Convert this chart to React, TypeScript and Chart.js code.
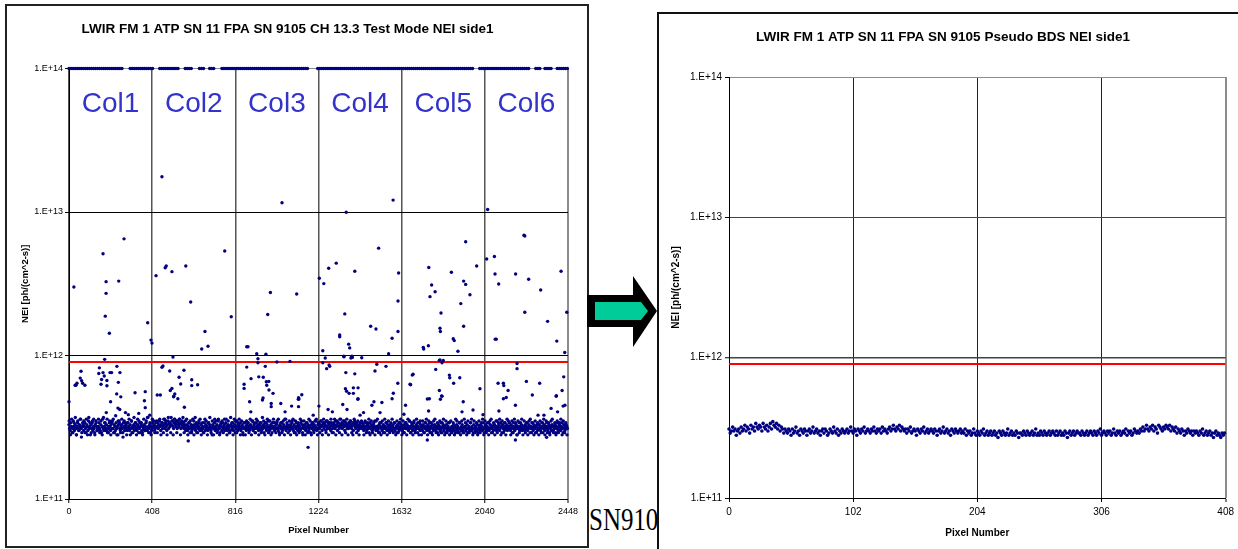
import React, { useEffect, useRef } from "react";
import { Chart, registerables } from "chart.js";

Chart.register(...registerables);

const FONT = '"Liberation Sans", Arial, Helvetica, sans-serif';

const LEFT_TITLE = "LWIR FM 1 ATP SN 11 FPA SN 9105 CH 13.3 Test Mode NEI side1";
const RIGHT_TITLE = "LWIR FM 1 ATP SN 11 FPA SN 9105 Pseudo BDS NEI side1";
const Y_TITLE = "NEI [ph/(cm^2-s)]";
const X_TITLE = "Pixel Number";

const Y_TICKS = [1e11, 1e12, 1e13, 1e14];
const Y_TICK_LABELS = ["1.E+11", "1.E+12", "1.E+13", "1.E+14"];
const LEFT_X_TICKS = [0, 408, 816, 1224, 1632, 2040, 2448];
const RIGHT_X_TICKS = [0, 102, 204, 306, 408];

const THRESHOLD_NEI = 9e11;

const COL_LABELS = ["Col1", "Col2", "Col3", "Col4", "Col5", "Col6"];
const COL_CENTERS = [204, 612, 1020, 1428, 1836, 2244];
const COL_LABEL_LEVEL = 5.6e13;

// Test mode: pixels saturated at the top of the scale
const SATURATED_NEI = 1e14;
const SATURATED_PIXELS = [
  0, 10, 20, 30, 40, 50, 60, 70, 80, 90, 100, 110, 120, 130, 140, 150, 160, 170, 180, 190, 200, 210, 220, 230, 240, 250, 260,
  300, 310, 320, 330, 340, 350, 360, 370, 380, 390, 400, 410,
  445, 455, 465, 475, 485, 495, 505, 515, 525, 535,
  570, 580, 590, 600, 640, 650, 660, 690, 700, 710,
  750, 760, 770, 780, 790, 800, 810, 820, 830, 840, 850, 860, 870, 880, 890, 900, 910, 920, 930, 940, 950, 960, 970, 980, 990,
  1000, 1010, 1020, 1030, 1040, 1050, 1060, 1070, 1080, 1090, 1100, 1110, 1120, 1130, 1140, 1150, 1160, 1170,
  1220, 1230, 1240, 1250, 1260, 1270, 1280, 1290, 1300, 1310, 1320, 1330, 1340, 1350, 1360, 1370, 1380, 1390, 1400,
  1410, 1420, 1430, 1440, 1450, 1460, 1470, 1480, 1490, 1500, 1510, 1520, 1530, 1540, 1550, 1560, 1570, 1580, 1590, 1600,
  1610, 1620, 1630, 1640, 1650, 1660, 1670, 1680, 1690, 1700, 1710, 1720, 1730, 1740, 1750, 1760, 1770, 1780, 1790, 1800,
  1810, 1820, 1830, 1840, 1850, 1860, 1870, 1880, 1890, 1900, 1910, 1920, 1930, 1940, 1950, 1960, 1970, 1980,
  2015, 2025, 2035, 2045, 2055, 2065, 2075, 2085, 2095, 2105, 2115, 2125, 2135, 2145, 2155, 2165, 2175, 2185, 2195, 2205,
  2215, 2225, 2235, 2245, 2255,
  2290, 2300, 2310, 2335, 2345, 2355, 2365, 2395, 2405, 2415, 2425, 2435, 2445,
];

// Test mode: scattered noisy pixels [pixel, NEI]
const TEST_OUTLIERS: [number, number][] = [
  [0, 4.76e11], [24, 3.0e12], [30, 6.2e11], [34, 6.2e11], [39, 6.4e11], [55, 6.96e11], [59, 7.76e11], [62, 6.67e11], [67, 6.4e11], [78, 6.2e11],
  [146, 7.5e11], [149, 8.2e11], [157, 6.3e11], [160, 6.8e11], [167, 5.12e12], [167, 7.6e11], [173, 7.2e11], [175, 9.4e11], [178, 1.88e12],
  [182, 3.27e12], [182, 2.71e12], [183, 4.0e11], [186, 6.7e11], [186, 6.15e11], [198, 1.43e12], [201, 7.6e11], [204, 4.76e11], [209, 7.6e11],
  [234, 5.4e11], [235, 8.4e11], [240, 4.3e11], [242, 6.5e11], [244, 3.3e12], [249, 4.2e11], [250, 7.6e11], [254, 5.15e11], [270, 6.5e12],
  [277, 4.0e11], [291, 3.87e11], [324, 5.5e11], [342, 3.95e11], [370, 4.84e11], [374, 5.6e11], [374, 4.33e11], [386, 1.69e12], [396, 3.84e11],
  [402, 1.28e12], [407, 1.22e12], [427, 3.6e12], [433, 5.3e11], [448, 5.3e11], [456, 1.76e13], [456, 8.28e11], [461, 8.45e11], [472, 4.09e12],
  [477, 4.2e12], [494, 7.8e11], [497, 5.7e11], [505, 3.84e12], [505, 5.9e11], [510, 9.77e11], [513, 5.15e11], [514, 5.2e11], [519, 5.4e11],
  [534, 5.0e11], [540, 7.05e11], [548, 6.33e11], [564, 7.9e11], [566, 4.36e11], [573, 4.2e12], [585, 2.54e11], [597, 2.36e12], [602, 6.78e11],
  [602, 6.17e11], [631, 6.26e11], [651, 1.11e12], [667, 1.47e12], [682, 1.16e12],
  [764, 5.35e12], [796, 1.86e12], [859, 6.3e11], [859, 5.9e11], [872, 1.15e12], [878, 1.15e12], [872, 8.3e11], [886, 4.76e11], [892, 4.05e11],
  [893, 6.9e11], [921, 1.03e12], [927, 9.5e11], [927, 8.9e11], [931, 7.1e11], [949, 4.9e11], [952, 5.06e11], [953, 7.05e11], [963, 8.4e11],
  [966, 1.02e12], [968, 6.57e11], [970, 6.2e11], [975, 1.93e12], [980, 6.6e11], [981, 5.75e11], [988, 2.75e12], [992, 4.63e11], [992, 4.4e11],
  [1001, 5.45e11], [1020, 9.0e11], [1039, 4.63e11], [1045, 1.16e13], [1060, 4.05e11], [1084, 9.1e11], [1092, 4.44e11], [1117, 2.68e12],
  [1125, 4.95e11], [1126, 5.08e11], [1126, 4.4e11], [1128, 4.97e11], [1142, 5.33e11], [1173, 2.29e11], [1198, 3.84e11],
  [1226, 4.44e11], [1228, 3.45e12], [1245, 1.08e12], [1245, 8.9e11], [1250, 3.17e12], [1257, 9.6e11], [1264, 8.1e11], [1271, 4.2e11],
  [1274, 4.06e12], [1276, 8.6e11], [1279, 8.4e11], [1292, 4.05e11], [1311, 4.4e12], [1328, 1.39e12], [1328, 1.35e12], [1343, 4.56e11],
  [1348, 9.9e11], [1349, 9.8e11], [1353, 1.95e12], [1356, 5.86e11], [1358, 7.6e11], [1360, 9.95e12], [1362, 5.64e11], [1364, 4.2e11],
  [1372, 1.2e12], [1374, 5.45e11], [1377, 1.13e12], [1383, 9.6e11], [1388, 9.9e11], [1390, 9.7e11], [1395, 5.95e11], [1395, 5.45e11],
  [1402, 3.86e12], [1402, 7.45e11], [1417, 4.95e11], [1418, 5.95e11], [1418, 5.0e11], [1428, 3.84e11], [1436, 9.65e11], [1445, 4.0e11],
  [1480, 1.6e12], [1486, 4.5e11], [1496, 4.76e11], [1501, 7.8e11], [1506, 1.53e12], [1510, 8.7e11], [1519, 5.6e12], [1526, 4.0e11],
  [1535, 4.7e11], [1555, 8.4e11], [1568, 1.03e12], [1585, 1.32e12], [1585, 5.0e11], [1590, 1.21e13], [1591, 5.46e11], [1613, 6.4e11],
  [1614, 2.4e12], [1614, 1.47e12], [1617, 3.76e12],
  [1643, 3.9e11], [1651, 4.5e11], [1673, 6.3e11], [1676, 6.25e11], [1684, 7.3e11], [1688, 7.4e11], [1738, 1.14e12], [1740, 1.11e12],
  [1758, 4.97e11], [1758, 2.58e11], [1763, 1.17e12], [1764, 4.1e11], [1765, 4.1e12], [1768, 5.0e11], [1771, 2.57e12], [1779, 3.1e12],
  [1796, 2.78e12], [1799, 8.0e11], [1817, 9.25e11], [1817, 5.7e11], [1820, 1.55e12], [1820, 9.3e11], [1822, 1.47e12], [1822, 4.95e11],
  [1825, 1.98e12], [1828, 5.23e11], [1830, 8.9e11], [1830, 5.2e11], [1836, 9.25e11], [1866, 7.3e11], [1868, 7.0e11], [1876, 3.8e12],
  [1885, 1.31e12], [1887, 6.4e11], [1890, 1.27e12], [1908, 1.07e12], [1917, 7.0e11], [1922, 2.3e12], [1928, 4.05e11], [1934, 4.76e11],
  [1936, 3.3e12], [1936, 1.6e12], [1946, 6.2e12], [1946, 3.13e12], [1967, 2.65e12], [1982, 4.17e11],
  [2000, 4.2e12], [2016, 5.86e11], [2031, 3.87e11], [2049, 4.7e12], [2054, 1.04e13], [2087, 4.9e12], [2090, 3.7e12], [2091, 1.3e12],
  [2096, 1.3e12], [2105, 6.4e11], [2108, 3.15e12], [2109, 4.1e11], [2131, 6.4e11], [2131, 5.0e11], [2133, 6.17e11], [2145, 5.1e11],
  [2154, 5.7e11], [2190, 4.5e11], [2190, 2.58e11], [2191, 3.7e12], [2198, 8.8e11], [2198, 8.1e11], [2232, 6.9e12], [2236, 6.8e12],
  [2236, 2.0e12], [2244, 6.6e11], [2255, 3.4e12], [2273, 5.3e11], [2301, 3.84e11], [2309, 6.4e11], [2314, 2.86e12], [2330, 3.84e11],
  [2343, 2.69e11], [2348, 1.73e12], [2365, 4.28e11], [2390, 5.2e11], [2391, 5.25e11], [2393, 1.26e12], [2397, 4.05e11], [2414, 3.86e12],
  [2419, 5.7e11], [2424, 4.44e11], [2427, 7.1e11], [2432, 1.05e12], [2433, 4.5e11], [2442, 2.0e12],
];

// Test mode: main band, one value every 3 pixels, in units of 1e10
const TEST_BAND_STEP = 3;
const TEST_BAND_E10 = [
  33, 31, 30, 34, 32, 29, 31, 35, 32, 30, 33, 31, 28, 32, 34, 31, 30, 33, 32, 36, 31, 29, 32, 33,
  30, 32, 34, 31, 29, 33, 32, 30, 35, 31, 32, 28, 33, 31, 34, 30, 32, 31, 29, 33, 35, 32, 30, 31,
  32, 34, 31, 30, 33, 29, 32, 36, 31, 30, 32, 34, 31, 33, 30, 29, 32, 31, 34, 32, 30, 33, 31, 35,
  31, 29, 33, 32, 30, 34, 31, 32, 28, 33, 35, 31, 30, 32, 33, 31, 29, 34, 32, 30, 31, 33, 32, 30,
  34, 31, 32, 30, 33, 31, 35, 29, 32, 31, 33, 30, 32, 34, 31, 30, 33, 32, 29, 31, 34, 32, 33, 30,
  29, 32, 31, 33, 30, 32, 34, 31, 30, 37, 32, 31, 33, 29, 32, 30, 31, 34, 32, 33, 30, 31, 32, 35,
  32, 34, 31, 33, 35, 32, 30, 33, 34, 31, 32, 36, 33, 31, 34, 32, 30, 33, 35, 31, 34, 32, 33, 37,
  33, 35, 32, 31, 34, 36, 33, 32, 35, 31, 34, 33, 32, 36, 34, 31, 33, 35, 32, 34, 31, 33, 32, 30,
  31, 33, 30, 32, 34, 31, 29, 32, 33, 30, 31, 32, 35, 33, 31, 30, 32, 29, 33, 31, 32, 34, 30, 31,
  33, 30, 32, 31, 29, 34, 32, 30, 33, 31, 32, 30, 34, 31, 33, 32, 30, 31, 28, 33, 32, 31, 34, 30,
  32, 31, 33, 30, 35, 32, 31, 29, 33, 32, 30, 34, 31, 32, 33, 30, 31, 36, 32, 30, 33, 31, 32, 29,
  30, 33, 32, 31, 34, 30, 32, 33, 29, 31, 35, 32, 30, 33, 31, 32, 34, 30, 31, 33, 32, 28, 31, 34,
  31, 32, 30, 33, 31, 34, 32, 30, 31, 33, 32, 35, 31, 30, 32, 33, 31, 29, 34, 32, 31, 33, 30, 32,
  33, 31, 34, 30, 32, 31, 33, 29, 32, 34, 31, 30, 33, 32, 35, 31, 30, 32, 33, 31, 29, 32, 34, 31,
  30, 32, 31, 33, 34, 31, 30, 32, 29, 33, 31, 32, 34, 30, 31, 33, 32, 36, 31, 30, 32, 33, 31, 32,
  32, 30, 33, 31, 32, 35, 31, 30, 33, 32, 29, 31, 34, 32, 30, 33, 31, 32, 30, 34, 31, 33, 29, 32,
  31, 33, 32, 30, 31, 34, 32, 33, 30, 31, 32, 29, 33, 31, 34, 32, 30, 33, 31, 32, 35, 30, 31, 33,
  34, 32, 31, 33, 35, 32, 30, 33, 34, 31, 32, 33, 30, 35, 32, 31, 34, 33, 31, 32, 30, 34, 33, 31,
  32, 34, 33, 31, 35, 32, 33, 30, 34, 32, 31, 36, 33, 32, 34, 31, 33, 35, 32, 30, 33, 34, 32, 31,
  33, 31, 34, 32, 35, 33, 31, 32, 34, 30, 33, 35, 32, 31, 33, 34, 32, 30, 31, 33, 32, 34, 31, 32,
  31, 33, 30, 32, 31, 34, 32, 30, 33, 31, 32, 29, 34, 31, 33, 32, 30, 31, 33, 32, 35, 31, 30, 32,
  32, 30, 31, 33, 29, 32, 34, 31, 30, 32, 33, 31, 29, 32, 31, 34, 30, 33, 32, 31, 30, 33, 31, 32,
  30, 32, 33, 31, 34, 30, 31, 32, 29, 33, 31, 32, 30, 34, 31, 33, 32, 30, 31, 29, 33, 32, 31, 34,
  31, 33, 32, 30, 31, 35, 32, 29, 31, 33, 30, 32, 34, 31, 30, 32, 33, 31, 29, 32, 31, 34, 30, 33,
  32, 31, 30, 33, 32, 29, 31, 34, 32, 30, 31, 33, 32, 30, 34, 31, 32, 29, 33, 31, 30, 32, 33, 31,
  30, 32, 31, 29, 33, 31, 32, 30, 34, 31, 29, 32, 33, 30, 31, 32, 29, 33, 31, 30, 32, 31, 34, 30,
  31, 29, 32, 30, 31, 33, 30, 32, 29, 31, 33, 30, 32, 31, 29, 34, 31, 30, 32, 33, 30, 31, 29, 32,
  32, 30, 31, 33, 29, 31, 32, 30, 31, 34, 30, 32, 31, 29, 33, 31, 30, 32, 31, 30, 33, 29, 31, 32,
  30, 33, 31, 32, 30, 34, 31, 29, 32, 33, 31, 30, 32, 31, 34, 30, 31, 33, 32, 29, 31, 32, 30, 33,
  33, 31, 32, 30, 35, 31, 32, 33, 30, 31, 34, 32, 29, 33, 31, 32, 30, 34, 31, 32, 33, 30, 31, 32,
  31, 32, 30, 33, 31, 29, 32, 34, 31, 30, 32, 33, 31, 28, 32, 31, 34, 30, 32, 31, 33, 30, 32, 31,
  32, 30, 33, 31, 32, 34, 30, 31, 33, 32, 29, 31, 32, 34, 31, 30, 33, 32, 31, 29, 32, 33, 30, 31,
  31, 33, 32, 30, 31, 34, 32, 29, 31, 33, 30, 32, 31, 34, 32, 30, 31, 33, 29, 32, 31, 30, 33, 32,
  30, 32, 31, 33, 29, 32, 31, 34, 30, 32, 33, 31, 30, 32, 34, 31, 29, 33, 32, 30, 31, 33, 32, 31,
];

// Test mode: the band's fuzzy edges, one value every 6 pixels (starting at pixel 1), in units of 1e10
const TEST_EDGE_STEP = 6;
const TEST_EDGE_START = 1;
const TEST_EDGE_E10 = [
  35, 28, 36, 29, 34, 37, 28, 35, 30, 36, 27, 34, 35, 29, 36, 28, 37, 34, 29, 35, 36, 28, 34, 30,
  36, 29, 35, 28, 37, 34, 30, 36, 29, 35, 28, 34, 36, 29, 38, 28, 35, 34, 29, 36, 27, 35, 34, 28,
  34, 36, 28, 35, 29, 37, 34, 28, 36, 35, 29, 34, 28, 36, 30, 35, 37, 29, 34, 28, 36, 35, 29, 34,
  29, 35, 36, 28, 34, 29, 36, 35, 28, 37, 34, 29, 35, 28, 36, 34, 29, 35, 36, 28, 34, 37, 29, 35,
  36, 28, 34, 35, 29, 36, 28, 37, 34, 29, 35, 36, 28, 34, 29, 36, 35, 28, 34, 37, 29, 35, 28, 36,
  35, 29, 36, 28, 34, 35, 29, 36, 34, 28, 35, 29, 37, 34, 28, 36, 35, 29, 34, 36, 28, 35, 29, 34,
  28, 35, 34, 29, 36, 28, 35, 34, 29, 36, 35, 28, 34, 29, 37, 35, 28, 34, 36, 29, 35, 28, 34, 36,
  34, 29, 35, 36, 28, 34, 29, 35, 28, 36, 34, 29, 35, 28, 34, 36, 29, 35, 28, 34, 29, 36, 35, 28,
  35, 28, 34, 29, 36, 35, 28, 34, 29, 35, 36, 28, 34, 29, 35, 28, 36, 34, 29, 35, 28, 34, 36, 29,
  29, 36, 28, 35, 34, 29, 36, 28, 34, 35, 29, 36, 28, 34, 35, 29, 28, 36, 34, 29, 35, 28, 34, 35,
  34, 28, 35, 29, 34, 36, 28, 35, 29, 34, 28, 35, 36, 29, 34, 28, 35, 29, 36, 34, 28, 35, 29, 34,
  36, 29, 34, 28, 35, 29, 34, 36, 28, 35, 29, 34, 28, 36, 35, 29, 34, 28, 35, 29, 36, 34, 28, 35,
  28, 35, 29, 34, 36, 28, 35, 29, 34, 28, 35, 36, 29, 34, 28, 35, 29, 34, 36, 28, 35, 29, 34, 28,
  35, 29, 34, 28, 36, 35, 29, 34, 28, 35, 29, 36, 34, 28, 35, 29, 34, 36, 28, 35, 29, 34, 28, 35,
  29, 34, 36, 28, 35, 29, 34, 28, 35, 36, 29, 34, 28, 35, 29, 34, 36, 28, 35, 29, 34, 28, 36, 35,
  34, 28, 35, 29, 36, 34, 28, 35, 29, 34, 36, 28, 35, 29, 34, 28, 35, 36, 29, 34, 28, 35, 29, 34,
  28, 35, 29, 34, 36, 28, 35, 29, 34, 28, 35, 36, 29, 34, 28, 35, 29, 34, 36, 28, 35, 29, 34, 28,
];

// Pseudo BDS: one value per pixel, in units of 1e10
const BDS_E10 = [
  31, 29, 30, 32, 30, 31, 28, 30, 31, 29, 32, 30, 31, 33, 30, 32, 31, 29, 33, 31, 32, 30, 34, 32,
  31, 33, 32, 30, 34, 32, 31, 33, 30, 32, 34, 31, 35, 33, 32, 34, 31, 33, 30, 32, 31, 29, 31, 30,
  29, 31, 30, 28, 31, 29, 30, 32, 29, 30, 28, 31, 30, 29, 31, 30, 28, 30, 31, 29, 30, 32, 29, 30,
  31, 29, 30, 28, 30, 31, 29, 31, 30, 28, 29, 31, 30, 29, 32, 30, 29, 31, 28, 30, 29, 31, 30, 29,
  30, 31, 29, 30, 32, 30, 29, 31, 30, 28, 31, 30, 29, 31, 30, 32, 29, 30, 31, 30, 29, 31, 30, 32,
  30, 29, 31, 30, 31, 29, 32, 30, 31, 30, 29, 31, 32, 30, 31, 33, 31, 30, 32, 31, 33, 30, 32, 31,
  30, 31, 29, 31, 30, 32, 29, 30, 31, 30, 28, 31, 30, 29, 31, 30, 32, 29, 30, 31, 29, 30, 31, 30,
  29, 31, 30, 28, 30, 31, 29, 30, 32, 29, 30, 31, 29, 30, 28, 31, 30, 29, 31, 30, 29, 30, 31, 29,
  30, 29, 31, 28, 30, 29, 30, 28, 29, 31, 29, 28, 30, 29, 28, 30, 29, 31, 28, 29, 30, 28, 29, 30,
  28, 29, 30, 28, 29, 27, 30, 29, 28, 30, 29, 28, 29, 31, 28, 29, 30, 28, 29, 28, 30, 29, 27, 29,
  29, 28, 30, 29, 28, 30, 29, 28, 29, 30, 28, 29, 31, 28, 29, 28, 30, 29, 28, 30, 29, 28, 29, 30,
  28, 29, 30, 29, 28, 30, 28, 29, 30, 28, 29, 28, 30, 29, 27, 29, 30, 28, 29, 30, 28, 29, 30, 29,
  29, 28, 30, 29, 28, 29, 30, 28, 29, 30, 29, 28, 30, 29, 28, 30, 29, 31, 28, 29, 30, 29, 28, 30,
  29, 30, 28, 29, 31, 29, 28, 30, 29, 30, 28, 29, 30, 29, 31, 28, 30, 29, 30, 28, 29, 31, 30, 29,
  30, 29, 31, 30, 32, 30, 31, 33, 31, 30, 32, 31, 33, 30, 32, 31, 29, 33, 32, 31, 30, 32, 31, 33,
  32, 31, 33, 30, 32, 31, 30, 32, 29, 31, 30, 29, 31, 30, 28, 30, 29, 31, 30, 29, 30, 28, 30, 29,
  30, 29, 28, 30, 29, 31, 28, 29, 30, 28, 29, 30, 28, 29, 27, 29, 30, 28, 29, 28, 27, 29, 28, 29,
];

const NAVY = "#000080";

function yTickLabel(v: number) {
  const i = Y_TICKS.indexOf(v);
  return i >= 0 ? Y_TICK_LABELS[i] : "";
}

const colLabelPlugin = {
  id: "colLabels",
  afterDatasetsDraw(chart: any) {
    const { ctx, scales } = chart;
    const x = scales.x;
    const y = scales.y;
    ctx.save();
    ctx.font = `28px ${FONT}`;
    ctx.fillStyle = "#3333CC";
    ctx.textAlign = "center";
    ctx.textBaseline = "middle";
    COL_LABELS.forEach((t, i) => {
      ctx.fillText(t, x.getPixelForValue(COL_CENTERS[i]), y.getPixelForValue(COL_LABEL_LEVEL));
    });
    ctx.restore();
  },
};

type Geo = {
  yAxisWidth: number;
  xAxisHeight: number;
  padRight: number;
  titleTop: number;
  titleBottom: number;
  tickFont: number;
  axisTitleFont: number;
  yTitlePad: number;
  xTitlePad: number;
  yTickPad: number;
  xTickPad: number;
  pointRadius: number;
};

function makeConfig(
  title: string,
  xMax: number,
  xTicks: number[],
  points: { x: number; y: number }[],
  geo: Geo,
  vGridColor: (v: number) => string,
  vGridWidth: (v: number) => number,
  hGridColor: (v: number) => string,
  hGridWidth: (v: number) => number,
  plugins: any[]
): any {
  return {
    type: "scatter",
    data: {
      datasets: [
        {
          label: "NEI",
          data: points,
          backgroundColor: NAVY,
          borderWidth: 0,
          pointRadius: geo.pointRadius,
          pointHoverRadius: geo.pointRadius,
          clip: false,
          order: 1,
        },
        {
          label: "Threshold",
          type: "line",
          data: [
            { x: 0, y: THRESHOLD_NEI },
            { x: xMax, y: THRESHOLD_NEI },
          ],
          borderColor: "#FF0000",
          borderWidth: 2,
          pointRadius: 0,
          fill: false,
          order: 2,
        },
      ],
    },
    options: {
      responsive: false,
      animation: false,
      events: [],
      layout: { padding: { left: 0, right: geo.padRight, top: 0, bottom: 0 } },
      plugins: {
        legend: { display: false },
        tooltip: { enabled: false },
        title: {
          display: true,
          text: title,
          color: "#000",
          font: { family: FONT, size: 13.5, weight: "bold", lineHeight: 1.2 },
          padding: { top: geo.titleTop, bottom: geo.titleBottom },
        },
      },
      scales: {
        x: {
          type: "linear",
          min: 0,
          max: xMax,
          afterBuildTicks: (s: any) => {
            s.ticks = xTicks.map((v) => ({ value: v }));
          },
          afterFit: (s: any) => {
            s.height = geo.xAxisHeight;
          },
          ticks: {
            color: "#000",
            font: { family: FONT, size: geo.tickFont },
            padding: geo.xTickPad,
            maxRotation: 0,
            autoSkip: false,
            callback: (v: any) => String(v),
          },
          grid: {
            color: (c: any) => vGridColor(c.tick ? c.tick.value : 0),
            lineWidth: (c: any) => vGridWidth(c.tick ? c.tick.value : 0),
            drawTicks: true,
            tickLength: 4,
            tickColor: "#000",
            tickWidth: 1,
          },
          border: { display: true, color: "#000", width: 1 },
          title: {
            display: true,
            text: X_TITLE,
            color: "#000",
            font: { family: FONT, size: geo.axisTitleFont, weight: "bold", lineHeight: 1.2 },
            padding: { top: 0, bottom: geo.xTitlePad },
          },
        },
        y: {
          type: "logarithmic",
          min: Y_TICKS[0],
          max: Y_TICKS[Y_TICKS.length - 1],
          afterBuildTicks: (s: any) => {
            s.ticks = Y_TICKS.map((v) => ({ value: v }));
          },
          afterFit: (s: any) => {
            s.width = geo.yAxisWidth;
          },
          ticks: {
            color: "#000",
            font: { family: FONT, size: geo.tickFont },
            padding: geo.yTickPad,
            autoSkip: false,
            callback: (v: any) => yTickLabel(Number(v)),
          },
          grid: {
            color: (c: any) => hGridColor(c.tick ? c.tick.value : 0),
            lineWidth: (c: any) => hGridWidth(c.tick ? c.tick.value : 0),
            drawTicks: true,
            tickLength: 4,
            tickColor: "#000",
            tickWidth: 1,
          },
          border: { display: true, color: "#000", width: 1 },
          title: {
            display: true,
            text: Y_TITLE,
            color: "#000",
            font: { family: FONT, size: geo.axisTitleFont, weight: "bold", lineHeight: 1.2 },
            padding: { top: geo.yTitlePad, bottom: 0 },
          },
        },
      },
    },
    plugins,
  };
}

export default function App() {
  const leftRef = useRef<HTMLCanvasElement>(null);
  const rightRef = useRef<HTMLCanvasElement>(null);

  useEffect(() => {
    const leftPoints = [
      ...TEST_BAND_E10.map((v, i) => ({ x: i * TEST_BAND_STEP, y: v * 1e10 })),
      ...TEST_EDGE_E10.map((v, i) => ({ x: TEST_EDGE_START + i * TEST_EDGE_STEP, y: v * 1e10 })),
      ...TEST_OUTLIERS.map(([x, y]) => ({ x, y })),
      ...SATURATED_PIXELS.map((x) => ({ x, y: SATURATED_NEI })),
    ];
    const rightPoints = BDS_E10.map((v, i) => ({ x: i, y: v * 1e10 }));

    const left = new Chart(
      leftRef.current as HTMLCanvasElement,
      makeConfig(
        LEFT_TITLE,
        2448,
        LEFT_X_TICKS,
        leftPoints,
        {
          yAxisWidth: 62,
          xAxisHeight: 47,
          padRight: 19,
          titleTop: 14.9,
          titleBottom: 31.4,
          tickFont: 9,
          axisTitleFont: 9.5,
          yTitlePad: 12.3,
          xTitlePad: 10.3,
          yTickPad: 2,
          xTickPad: 3,
          pointRadius: 1.7,
        },
        (v) => (v === 2448 ? "#8c8c8c" : "#555"),
        (v) => (v === 2448 ? 2 : 1.5),
        (v) => (v === 1e14 ? "#8c8c8c" : "#000"),
        () => 1,
        [colLabelPlugin]
      )
    );

    const right = new Chart(
      rightRef.current as HTMLCanvasElement,
      makeConfig(
        RIGHT_TITLE,
        408,
        RIGHT_X_TICKS,
        rightPoints,
        {
          yAxisWidth: 70,
          xAxisHeight: 51,
          padRight: 11,
          titleTop: 14.9,
          titleBottom: 31.9,
          tickFont: 10,
          axisTitleFont: 10,
          yTitlePad: 11,
          xTitlePad: 10,
          yTickPad: 3,
          xTickPad: 4,
          pointRadius: 1.8,
        },
        (v) => (v === 408 ? "#8c8c8c" : "#222"),
        (v) => (v === 408 ? 2 : 1),
        (v) => (v === 1e14 ? "#8c8c8c" : "#444"),
        (v) => (v === 1e12 ? 1.5 : 1),
        []
      )
    );

    return () => {
      left.destroy();
      right.destroy();
    };
  }, []);

  return (
    <div
      style={{
        position: "fixed",
        left: 0,
        top: 0,
        width: 1238,
        height: 549,
        overflow: "hidden",
        background: "#fff",
      }}
    >
      <div
        style={{
          position: "absolute",
          left: 589,
          top: 501,
          fontFamily: '"Liberation Serif", "Times New Roman", serif',
          fontSize: 32,
          lineHeight: "36px",
          color: "#000",
          whiteSpace: "nowrap",
          transform: "scaleX(0.78)",
          transformOrigin: "left top",
        }}
      >
        SN9105
      </div>
      <div
        style={{
          position: "absolute",
          left: 5,
          top: 4,
          width: 584,
          height: 544,
          border: "2px solid #222",
          boxSizing: "border-box",
          background: "#fff",
        }}
      >
        <canvas ref={leftRef} width={580} height={540} style={{ display: "block" }} />
      </div>
      <div
        style={{
          position: "absolute",
          left: 657,
          top: 12,
          width: 620,
          height: 560,
          border: "2px solid #111",
          boxSizing: "border-box",
          background: "#fff",
        }}
      >
        <canvas ref={rightRef} width={579} height={535} style={{ display: "block" }} />
      </div>
      <svg
        width={1238}
        height={549}
        style={{ position: "absolute", left: 0, top: 0, pointerEvents: "none" }}
      >
        <polygon points="587,295 633,295 633,276 657,311 633,347 633,327 587,327" fill="#000" />
        <polygon points="595,302 641,302 648,311 641,320 595,320" fill="#00CC99" />
      </svg>
    </div>
  );
}
